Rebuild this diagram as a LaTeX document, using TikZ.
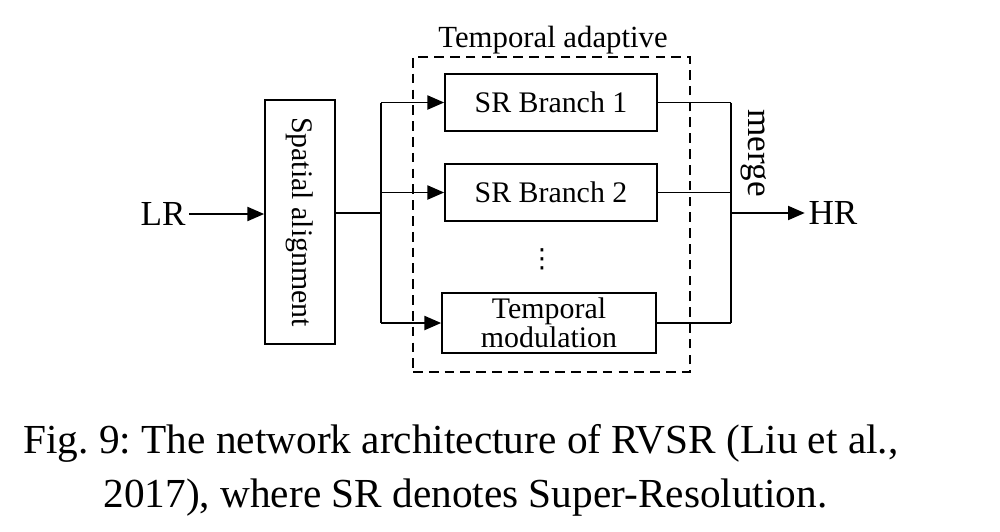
\documentclass[tikz,border=0pt]{standalone}
\usepackage{graphicx}
\usepackage{fontspec}
\setmainfont{Liberation Serif}
\newfontfamily\symfont{DejaVu Sans}
\frenchspacing
\usetikzlibrary{arrows.meta}

\begin{document}
\begin{tikzpicture}[x=0.02cm,y=-0.02cm,
  box/.style={shape=rectangle,draw=black,line width=1pt,align=center,inner sep=0pt,font=\fontsize{17}{14}\selectfont},
  lbl/.style={align=center,inner sep=2pt,font=\fontsize{20}{24}\selectfont},
  flow/.style={-{Triangle[length=9.5pt,width=8pt]},draw=black,line width=1pt},
  wire/.style={draw=black,line width=1pt},
  caption/.style={anchor=base,inner sep=0pt,font=\fontsize{23.5}{30}\selectfont}]
\useasboundingbox (0,0) rectangle (1000,531);

\node[lbl] (LR) at (163,214) {LR};
\node[box,minimum width=1.4cm,minimum height=4.88cm] (SA) at (300,222) {\rotatebox{-90}{Spatial alignment}};
\node[shape=rectangle,draw=black,line width=1pt,dash pattern=on 5.5pt off 3.5pt,minimum width=5.54cm,minimum height=6.3cm] (TA) at (551.5,214.5) {};
\node[anchor=base,inner sep=0pt,font=\fontsize{17.5}{20}\selectfont] (TAlabel) at (553,47) {Temporal adaptive};
\node[box,minimum width=4.24cm,minimum height=1.14cm] (B1) at (551,102.5) {SR Branch 1};
\node[box,minimum width=4.24cm,minimum height=1.14cm] (B2) at (551,192.5) {SR Branch 2};
\node[inner sep=0pt,font=\symfont\fontsize{15}{16}\selectfont] (dots) at (542,259) {⋮};
\node[box,minimum width=4.28cm,minimum height=1.2cm] (TM) at (549,323) {Temporal\\modulation};
\node[lbl,rotate=-90] (merge) at (754,153) {merge};
\node[lbl] (HR) at (833,213) {HR};

\coordinate (J) at (381,213);
\coordinate (M) at (731,213);

\draw[flow] (LR.east) -- (LR.east -| SA.west);
\draw[wire] (SA.east |- J) -- (J);
\draw[wire] (J |- B1) -- (J |- TM);
\draw[flow] (J |- B1) -- (B1.west);
\draw[flow] (J |- B2) -- (B2.west);
\draw[flow] (J |- TM) -- (TM.west);
\draw[wire] (B1.east) -- (M |- B1);
\draw[wire] (B2.east) -- (M |- B2);
\draw[wire] (TM.east) -- (M |- TM);
\draw[wire] (M |- B1) -- (M |- TM);
\draw[flow] (M) -- (HR.west);

\node[caption] (cap1) at (461,453) {Fig. 9: The network architecture of RVSR (Liu et al.,};
\node[caption] (cap2) at (465.5,507) {2017), where SR denotes Super-Resolution.};
\end{tikzpicture}
\end{document}
